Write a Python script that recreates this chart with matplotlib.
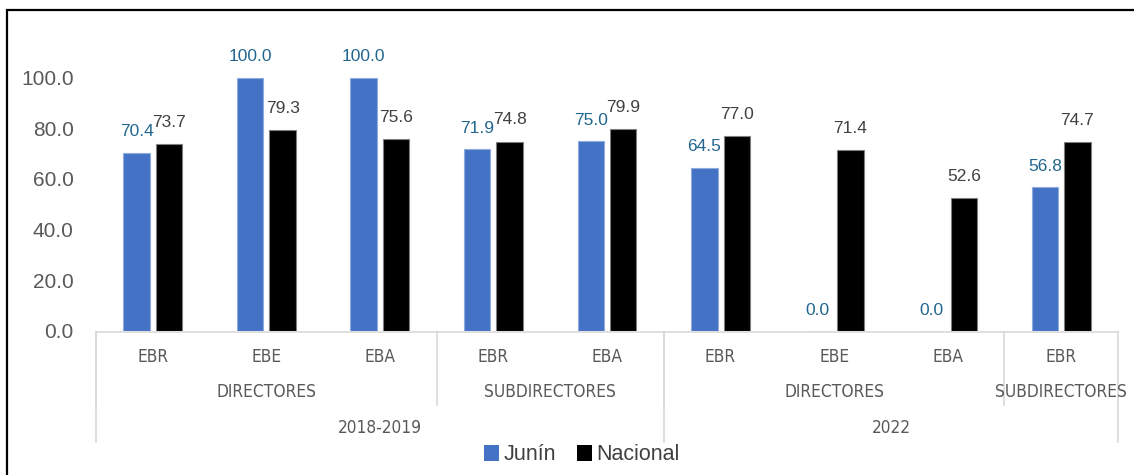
import matplotlib
matplotlib.use("Agg")
import matplotlib.pyplot as plt
import matplotlib.transforms as mtransforms
from matplotlib.patches import Rectangle, Patch
from matplotlib import font_manager
import numpy as np

# ---- data ----
subcats = ['EBR', 'EBE', 'EBA', 'EBR', 'EBA', 'EBR', 'EBE', 'EBA', 'EBR']
cargos = ['DIRECTORES', 'DIRECTORES', 'DIRECTORES', 'SUBDIRECTORES', 'SUBDIRECTORES',
          'DIRECTORES', 'DIRECTORES', 'DIRECTORES', 'SUBDIRECTORES']
years = ['2018-2019'] * 5 + ['2022'] * 4
junin = [70.4, 100.0, 100.0, 71.9, 75.0, 64.5, 0.0, 0.0, 56.8]
nacional = [73.7, 79.3, 75.6, 74.8, 79.9, 77.0, 71.4, 52.6, 74.7]
series_names = ['Junín', 'Nacional']
yticks = [0, 20, 40, 60, 80, 100]

BLUE = '#4472C4'
BLACK = '#000000'
GRID = '#D9D9D9'
TICK = '#595959'

W, H = 1134, 475
fig = plt.figure(figsize=(W / 100, H / 100), dpi=100)

ax_l, ax_r, ax_b, ax_t = 96, 1118, 331, 27
ax = fig.add_axes([ax_l / W, 1 - ax_b / H, (ax_r - ax_l) / W, (ax_b - ax_t) / H])

n = len(subcats)
x = np.arange(n)
bw = 0.233
off = 0.143
ax.bar(x - off, junin, bw, color=BLUE, edgecolor='#8FAADC', linewidth=0.8)
ax.bar(x + off, nacional, bw, color=BLACK, edgecolor='#7F7F7F', linewidth=0.8)

for xi, v in zip(x, junin):
    ax.annotate(f'{v:.1f}', (xi - off, v), xytext=(0, 15), textcoords='offset points',
                ha='center', va='center', fontsize=12.5, color='#22668F',
                family=['Liberation Sans', 'DejaVu Sans'])
for xi, v in zip(x, nacional):
    ax.annotate(f'{v:.1f}', (xi + off, v), xytext=(0, 15.5), textcoords='offset points',
                ha='center', va='center', fontsize=12.5, color='#404040',
                family=['Liberation Sans', 'DejaVu Sans'])

ax.set_xlim(-0.5, n - 0.5)
ax.set_ylim(0, 120)
ax.set_yticks(yticks)
ax.set_yticklabels([f'{t:.1f}' for t in yticks], fontsize=15, color=TICK,
                   family=['Liberation Sans', 'DejaVu Sans'])
ax.tick_params(axis='y', length=0, pad=16)
ax.set_xticks([])
for s in ax.spines.values():
    s.set_visible(False)

# pick a narrow font if one is installed
narrow_family = 'Liberation Sans'
narrow_stretch = 'normal'
names = {f.name for f in font_manager.fontManager.ttflist}
if 'Liberation Sans Narrow' in names:
    narrow_family = 'Liberation Sans Narrow'
else:
    for f in font_manager.fontManager.ttflist:
        if f.name == 'DejaVu Sans' and str(f.stretch) in ('condensed', 'semi-condensed'):
            narrow_family = 'DejaVu Sans'
            narrow_stretch = 'condensed'
            break
cat_font = dict(family=narrow_family, stretch=narrow_stretch, fontsize=12.4, color=TICK)

# multi-level category axis
trans = mtransforms.blended_transform_factory(ax.transData, ax.transAxes)
def ay(ypx):
    return (ax_b - ypx) / (ax_b - ax_t)

ax.plot([-0.5, n - 0.5], [ay(332), ay(332)], color=GRID, lw=1.2, transform=trans, clip_on=False)

for xi, lab in zip(x, subcats):
    ax.text(xi, ay(357), lab, transform=trans, ha='center', va='center', **cat_font)

def runs(labels):
    out = []
    start = 0
    for i in range(1, len(labels) + 1):
        if i == len(labels) or labels[i] != labels[start] or years[i] != years[start]:
            out.append((labels[start], start, i))
            start = i
    return out

for lab, s, e in runs(cargos):
    ax.text((s + e - 1) / 2, ay(392), lab, transform=trans, ha='center', va='center', **cat_font)
    ax.plot([s - 0.5, s - 0.5], [ay(332), ay(405)], color=GRID, lw=1.2, transform=trans, clip_on=False)

for lab, s, e in runs(years):
    ax.text((s + e - 1) / 2, ay(428), lab, transform=trans, ha='center', va='center', **cat_font)
    ax.plot([s - 0.5, s - 0.5], [ay(332), ay(442)], color=GRID, lw=1.2, transform=trans, clip_on=False)
ax.plot([n - 0.5, n - 0.5], [ay(332), ay(442)], color=GRID, lw=1.2, transform=trans, clip_on=False)

# legend
handles = [Patch(facecolor=BLUE, edgecolor='none'), Patch(facecolor=BLACK, edgecolor='none')]
fig.legend(handles, series_names, loc='center', bbox_to_anchor=(582 / W, 1 - 455 / H),
           ncol=2, frameon=False, handlelength=0.7, handleheight=0.7, handletextpad=0.2,
           columnspacing=1.0, prop={'family': ['Liberation Sans', 'DejaVu Sans'], 'size': 15.5},
           labelcolor='#404040')

# figure border
fig.add_artist(Rectangle((7 / W, -0.05), 1.2, (1 - 10 / H) + 0.05, transform=fig.transFigure,
                         fill=False, edgecolor='black', linewidth=1.6))

fig.savefig('out.png', dpi=100)
